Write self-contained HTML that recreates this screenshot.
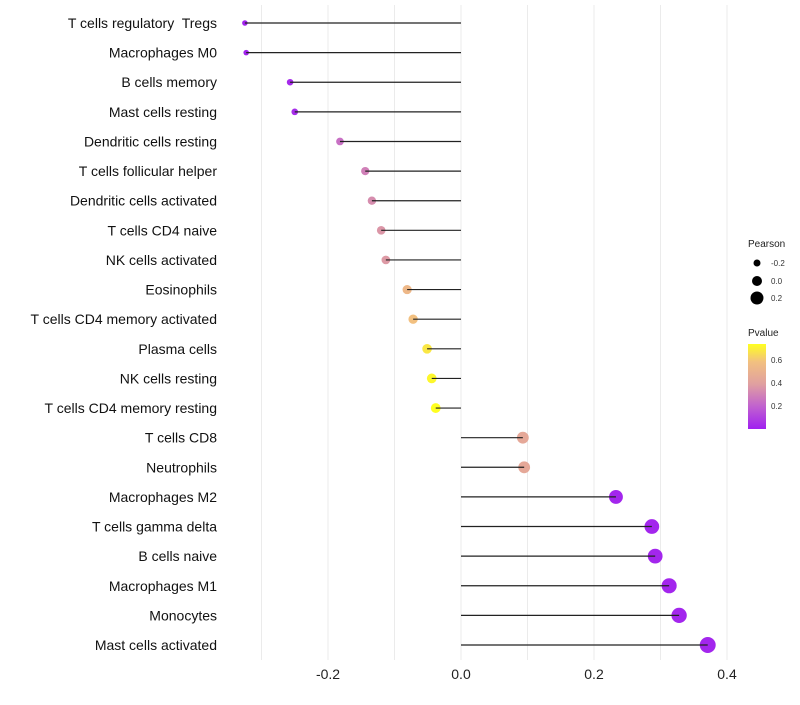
<!DOCTYPE html>
<html><head><meta charset="utf-8"><style>
body{margin:0;background:#fff;font-family:"Liberation Sans",sans-serif}
#ylab text{white-space:pre}
</style></head><body>
<svg id="chart" width="800" height="700" xmlns="http://www.w3.org/2000/svg" font-family="Liberation Sans, sans-serif">
<g id="grid"></g>
<g id="marks"></g>
<g id="ylab"></g>
<g id="xlab"></g>
<g>
<text x="748" y="247" font-size="10" fill="#222">Pearson</text>
<circle cx="757" cy="263" r="3.5" fill="#000"/><text x="771" y="266" font-size="8" fill="#333">-0.2</text>
<circle cx="757" cy="281" r="5" fill="#000"/><text x="771" y="284" font-size="8" fill="#333">0.0</text>
<circle cx="757" cy="298" r="6.5" fill="#000"/><text x="771" y="301" font-size="8" fill="#333">0.2</text>
</g>
<g>
<defs><linearGradient id="pg" x1="0" y1="1" x2="0" y2="0">
<stop offset="0" stop-color="#a020f0"/><stop offset="0.26" stop-color="#c060d0"/><stop offset="0.53" stop-color="#e0a0a0"/><stop offset="0.79" stop-color="#f2c080"/><stop offset="1" stop-color="#ffff20"/></linearGradient></defs>
<text x="748" y="336" font-size="10" fill="#222">Pvalue</text>
<rect x="748" y="344" width="18" height="85" fill="url(#pg)"/>
<text x="771" y="363" font-size="8" fill="#333">0.6</text>
<text x="771" y="386" font-size="8" fill="#333">0.4</text>
<text x="771" y="409" font-size="8" fill="#333">0.2</text>
</g>
</svg>
<script>
const cells=["T cells regulatory  Tregs","Macrophages M0","B cells memory","Mast cells resting","Dendritic cells resting","T cells follicular helper","Dendritic cells activated","T cells CD4 naive","NK cells activated","Eosinophils","T cells CD4 memory activated","Plasma cells","NK cells resting","T cells CD4 memory resting","T cells CD8","Neutrophils","Macrophages M2","T cells gamma delta","B cells naive","Macrophages M1","Monocytes","Mast cells activated"];
const pearson=[-0.325,-0.323,-0.257,-0.250,-0.182,-0.144,-0.134,-0.120,-0.113,-0.081,-0.072,-0.051,-0.044,-0.038,0.093,0.095,0.233,0.287,0.292,0.313,0.328,0.371];
const pvalue=[0.01,0.01,0.03,0.04,0.25,0.3,0.34,0.37,0.38,0.55,0.6,0.7,0.74,0.76,0.45,0.45,0.02,0.02,0.02,0.02,0.02,0.02];
const xTicks=[-0.2,0,0.2,0.4];
const xTickLabels=["-0.2","0.0","0.2","0.4"];
const gridVals=[-0.3,-0.2,-0.1,0,0.1,0.2,0.3,0.4];
const NS="http://www.w3.org/2000/svg";
const x=v=>461+v*665;
const y=i=>23+i*(622/21);
const rad=v=>Math.max(1.8,5.2+7.5*v);
const stops=[[0,[160,32,240]],[0.2,[192,96,208]],[0.4,[224,160,160]],[0.6,[242,192,128]],[0.76,[255,255,32]]];
function col(p){for(let k=1;k<stops.length;k++){if(p<=stops[k][0]){const a=stops[k-1],b=stops[k],t=(p-a[0])/(b[0]-a[0]);return 'rgb('+a[1].map((c,j)=>Math.round(c+(b[1][j]-c)*t)).join(',')+')';}}return 'rgb(255,255,32)';}
function mk(t,a,p){const e=document.createElementNS(NS,t);for(const k in a)e.setAttribute(k,a[k]);p.appendChild(e);return e;}
const grid=document.getElementById('grid'),marks=document.getElementById('marks'),yl=document.getElementById('ylab'),xl=document.getElementById('xlab');
gridVals.forEach(v=>{const l=mk('line',{x1:x(v),x2:x(v),y1:5,y2:660,stroke:'#ebebeb','stroke-width':1},grid);

});
cells.forEach((c,i)=>{
const cy=y(i);
const dot=mk('circle',{cx:x(pearson[i]),cy:cy,r:rad(pearson[i]),fill:col(pvalue[i])},marks);


const ln=mk('line',{x1:x(0),x2:x(pearson[i]),y1:cy,y2:cy,stroke:'#222','stroke-width':1.2},marks);


const t=mk('text',{x:217,y:cy+5,'text-anchor':'end','font-size':14,fill:'#111'},yl);t.textContent=c;


});
xTicks.forEach((v,i)=>{const t=mk('text',{x:x(v),y:679,'text-anchor':'middle','font-size':14,fill:'#222'},xl);t.textContent=xTickLabels[i];

});
</script>
</body></html>
